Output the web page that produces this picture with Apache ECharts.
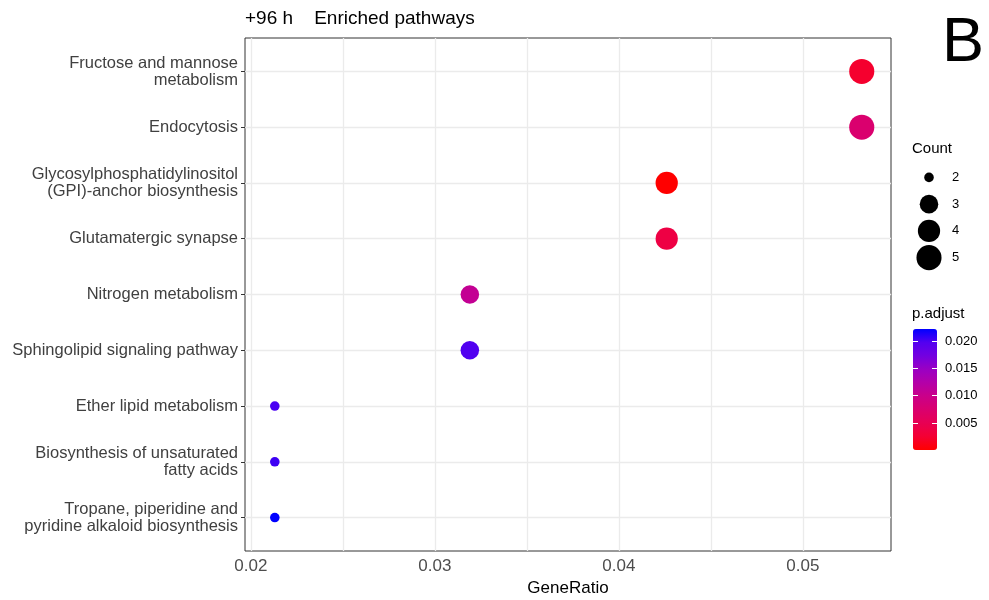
<!DOCTYPE html>
<html>
<head>
<meta charset="utf-8">
<script src="https://cdn.jsdelivr.net/npm/echarts@6/dist/echarts.min.js"></script>
<style>html,body{margin:0;padding:0;background:#fff}#c{width:989px;height:600px}</style>
</head>
<body>
<div id="c"></div>
<script>
// ---- data ----
const categories = [
  'Fructose and mannose\nmetabolism',
  'Endocytosis',
  'Glycosylphosphatidylinositol\n(GPI)-anchor biosynthesis',
  'Glutamatergic synapse',
  'Nitrogen metabolism',
  'Sphingolipid signaling pathway',
  'Ether lipid metabolism',
  'Biosynthesis of unsaturated\nfatty acids',
  'Tropane, piperidine and\npyridine alkaloid biosynthesis'
];
const geneRatio = [0.0532, 0.0532, 0.0426, 0.0426, 0.0319, 0.0319, 0.0213, 0.0213, 0.0213];
const counts = [5, 5, 4, 4, 3, 3, 2, 2, 2];
const pAdjust = [0.0023, 0.0074, 0.00006, 0.0038, 0.0107, 0.0198, 0.0200, 0.0204, 0.0222];
const xMajorTicks = [0.02, 0.03, 0.04, 0.05];
const xMinorTicks = [0.025, 0.035, 0.045];
const pTicks = [0.005, 0.010, 0.015, 0.020];
const countLevels = [2, 3, 4, 5];
const xRange = [0.01968, 0.05479];
const pRange = [0.00006, 0.0222];
const gradient = ['#FF0000','#F40033','#E80053','#DA006E','#CA0089','#B400A8','#9A00C3','#7300E0','#5300F0','#0000FF'];

// ---- helpers ----
const FONT = 'Liberation Sans, Arial, sans-serif';
const cMin = Math.min(...countLevels), cMax = Math.max(...countLevels);
function sizeOf(c) {
  const s = 3 + 5 * Math.sqrt((c - cMin) / (cMax - cMin));
  return 3.1 * s + 0.3;
}
const yIdx = categories.map((_, i) => i);
const mainData = categories.map((_, i) => [geneRatio[i], i, pAdjust[i], counts[i]]);
const gridLine = {color: '#EBEBEB', width: 1.3, type: 'solid'};

const chart = echarts.init(document.getElementById('c'), null, {renderer: 'canvas'});
chart.setOption({
  animation: false,
  backgroundColor: '#ffffff',
  textStyle: {fontFamily: FONT},
  title: {
    text: '+96 h    Enriched pathways',
    left: 240, top: 4,
    textStyle: {fontFamily: FONT, fontSize: 19, fontWeight: 'normal', color: '#000'}
  },
  graphic: [
    {type: 'text', left: 942, top: 12, style: {text: 'B', font: '63px ' + FONT, fill: '#000'}},
    {type: 'text', left: 912, top: 141, style: {text: 'Count', font: '15px ' + FONT, fill: '#000'}},
    {type: 'text', left: 912, top: 306, style: {text: 'p.adjust', font: '15px ' + FONT, fill: '#000'}}
  ],
  grid: [
    {left: 245, right: 98, top: 38, bottom: 49, show: true, borderColor: '#333333', borderWidth: 1,
      backgroundColor: 'transparent', containLabel: false, outerBoundsMode: 'none'},
    {left: 912, top: 164, width: 34, height: 107, containLabel: false, outerBoundsMode: 'none'},
    {left: 913, top: 329, width: 24, height: 121, containLabel: false, outerBoundsMode: 'none'}
  ],
  xAxis: [
    {
      gridIndex: 0, type: 'value', min: xRange[0], max: xRange[1],
      name: 'GeneRatio', nameLocation: 'middle', nameGap: 29,
      nameTextStyle: {fontFamily: FONT, fontSize: 17, color: '#000'},
      axisLine: {show: false},
      axisTick: {show: true, length: 4, lineStyle: {color: '#333'}, customValues: xMajorTicks},
      axisLabel: {customValues: xMajorTicks, fontFamily: FONT, fontSize: 17, color: '#4D4D4D', margin: 7,
        formatter: v => Number(v).toFixed(2)},
      splitLine: {show: false}
    },
    {gridIndex: 1, type: 'value', min: 0, max: 1, show: false},
    {gridIndex: 2, type: 'value', min: 0, max: 1, show: false}
  ],
  yAxis: [
    {
      gridIndex: 0, type: 'value', min: -0.6, max: categories.length - 1 + 0.6, inverse: true,
      axisLine: {show: false},
      axisTick: {show: true, length: 4, lineStyle: {color: '#333'}, customValues: yIdx},
      axisLabel: {customValues: yIdx, fontFamily: FONT, fontSize: 16.5, lineHeight: 17, color: '#404040', margin: 7,
        align: 'right', formatter: v => categories[Math.round(v)]},
      splitLine: {show: false}
    },
    {
      gridIndex: 1, type: 'category', data: countLevels.map(String), inverse: true, position: 'right',
      axisLine: {show: false}, axisTick: {show: false},
      axisLabel: {fontFamily: FONT, fontSize: 13, color: '#000', margin: 6}
    },
    {
      gridIndex: 2, type: 'value', min: pRange[0], max: pRange[1], position: 'left', z: 10,
      axisLine: {show: false}, axisLabel: {show: false}, splitLine: {show: false},
      axisTick: {show: true, inside: true, length: 5, customValues: pTicks, lineStyle: {color: '#fff', width: 1}}
    },
    {
      gridIndex: 2, type: 'value', min: pRange[0], max: pRange[1], position: 'right', z: 10,
      axisLine: {show: false}, splitLine: {show: false},
      axisTick: {show: true, inside: true, length: 5, customValues: pTicks, lineStyle: {color: '#fff', width: 1}},
      axisLabel: {customValues: pTicks, fontFamily: FONT, fontSize: 13, color: '#000', margin: 8,
        formatter: v => Number(v).toFixed(3)}
    }
  ],
  visualMap: {
    type: 'continuous', seriesIndex: 0, dimension: 2,
    min: pRange[0], max: pRange[1], calculable: false, hoverLink: false,
    orient: 'vertical', left: 908, top: 324, padding: 5,
    itemWidth: 24, itemHeight: 121, text: null, showLabel: false,
    inRange: {color: gradient}
  },
  series: [
    {
      type: 'scatter', xAxisIndex: 0, yAxisIndex: 0, z: 10,
      data: mainData,
      symbolSize: v => sizeOf(v[3]),
      itemStyle: {opacity: 1},
      markLine: {
        silent: true, symbol: ['none', 'none'], label: {show: false}, z: 1, precision: 6,
        animation: false, lineStyle: gridLine,
        data: [
          ...xMinorTicks.map(x => ({xAxis: x})),
          ...xMajorTicks.map(x => ({xAxis: x})),
          ...yIdx.map(y => ({yAxis: y}))
        ]
      }
    },
    {
      type: 'scatter', xAxisIndex: 1, yAxisIndex: 1,
      data: countLevels.map(c => [0.5, String(c), c]),
      symbolSize: v => sizeOf(v[2]),
      itemStyle: {color: '#000', opacity: 1}, silent: true
    }
  ]
});
</script>
</body>
</html>
